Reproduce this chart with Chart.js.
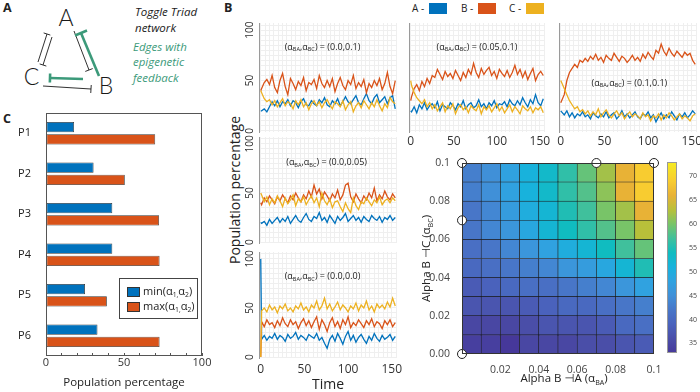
<!DOCTYPE html>
<html>
<head>
<meta charset="utf-8">
<title>Toggle triad</title>
<script src="https://cdn.jsdelivr.net/npm/chart.js@4.4.1/dist/chart.umd.min.js"></script>
<style>
  html, body { margin: 0; padding: 0; }
  body { width: 700px; height: 392px; overflow: hidden; position: relative; background: #fff; font-family: "Open Sans", sans-serif; color: #222; }
  canvas { position: absolute; }
  .tag { position: absolute; font-weight: bold; font-size: 12.5px; line-height: 1; }
  .key { position: absolute; top: 3px; font-size: 10px; line-height: 11px; white-space: nowrap; }
  .key span { display: inline-block; width: 18px; height: 11px; vertical-align: top; margin-left: 5px; }
  .ytitle { position: absolute; left: 235px; top: 190px; font-size: 14px; line-height: 16px; white-space: nowrap;
    transform: translate(-50%, -50%) rotate(-90deg); }
  #net { position: absolute; left: 0; top: 0; }
</style>
</head>
<body>
<div class="tag" style="left:3px;top:2px">A</div>
<div class="tag" style="left:224px;top:2px">B</div>
<div class="tag" style="left:3px;top:113px">C</div>
<svg id="net" width="225" height="100"></svg>
<div class="key" style="left:412px">A -<span style="background:#0072BD"></span></div>
<div class="key" style="left:461px">B -<span style="background:#D95319"></span></div>
<div class="key" style="left:509px">C -<span style="background:#EDB120"></span></div>
<div class="ytitle">Population percentage</div>

<script>
// ---------- data ----------
var times = [0, 1, 4, 7, 10, 13, 16, 19, 22, 25, 28, 31, 34, 37, 40, 43, 46, 49, 52, 55, 58, 61, 64, 67, 70, 73, 76,
  79, 82, 85, 88, 91, 94, 97, 100, 103, 106, 109, 112, 115, 118, 121, 124, 127, 130, 133, 136, 139, 142, 145, 148, 151, 154];
var timeTicks = [0, 50, 100, 150];
var popTicks = [0, 50, 100];

// (alpha_BA, alpha_BC) of each time panel
var panelBA = ['0.0', '0.05', '0.1', '0.0', '0.0'];
var panelBC = ['0.1', '0.1', '0.1', '0.05', '0.0'];

// panel (0.0, 0.1)
var popA1 = [20, 20, 22, 19, 24, 29, 25, 30, 24, 29, 27, 31, 25, 30, 28, 23, 29, 32, 26, 25, 30, 27, 25, 31, 28, 33,
  26, 24, 30, 27, 32, 25, 29, 34, 29, 27, 31, 35, 28, 26, 32, 37, 30, 27, 33, 36, 28, 31, 34, 27, 33, 35, 22];
var popB1 = [40, 42, 48, 51, 46, 55, 43, 38, 50, 57, 44, 36, 52, 47, 41, 49, 45, 53, 40, 48, 46, 51, 42, 55, 47, 43,
  50, 44, 52, 39, 47, 53, 45, 41, 50, 46, 55, 42, 48, 44, 51, 38, 47, 43, 50, 45, 52, 41, 47, 58, 44, 37, 50];
var popC1 = [40, 38, 32, 29, 31, 26, 30, 24, 28, 32, 25, 29, 27, 22, 30, 26, 31, 24, 28, 21, 27, 30, 25, 29, 23, 28,
  31, 26, 22, 29, 27, 24, 30, 21, 26, 29, 19, 25, 28, 23, 30, 26, 22, 28, 24, 31, 25, 20, 27, 23, 33, 29, 27];
// panel (0.05, 0.1)
var popA2 = [20, 19, 24, 18, 26, 22, 28, 21, 25, 27, 23, 29, 20, 26, 24, 22, 28, 25, 21, 27, 24, 30, 22, 26, 28, 23,
  25, 31, 24, 27, 22, 28, 25, 30, 23, 27, 26, 29, 24, 31, 27, 25, 30, 26, 33, 28, 24, 31, 27, 36, 28, 25, 32];
var popB2 = [30, 34, 42, 46, 40, 49, 44, 52, 47, 55, 53, 61, 56, 51, 59, 54, 57, 52, 60, 55, 50, 58, 53, 61, 56, 67,
  58, 53, 62, 56, 60, 63, 55, 59, 52, 61, 57, 54, 60, 53, 58, 65, 56, 61, 53, 59, 51, 57, 62, 50, 56, 59, 55];
var popC2 = [50, 45, 38, 33, 30, 27, 31, 24, 28, 22, 26, 20, 24, 28, 19, 25, 22, 27, 17, 23, 26, 21, 24, 18, 25, 22,
  20, 26, 17, 24, 21, 25, 19, 23, 27, 20, 24, 18, 22, 26, 19, 24, 21, 17, 25, 22, 20, 24, 18, 23, 21, 24, 18];
// panel (0.1, 0.1)
var popA3 = [20, 19, 16, 20, 14, 18, 13, 17, 15, 19, 14, 16, 12, 18, 15, 13, 17, 14, 19, 13, 16, 18, 12, 15, 20, 14,
  17, 13, 16, 19, 14, 12, 17, 15, 19, 13, 16, 9, 14, 18, 12, 16, 13, 19, 15, 11, 17, 14, 18, 13, 16, 20, 17];
var popB3 = [28, 30, 36, 50, 58, 62, 66, 63, 70, 68, 72, 69, 74, 71, 76, 70, 73, 68, 75, 72, 70, 77, 73, 69, 74, 72,
  68, 71, 75, 70, 73, 69, 76, 72, 78, 74, 71, 80, 77, 86, 79, 75, 82, 77, 74, 79, 76, 73, 78, 75, 77, 70, 66];
var popC3 = [50, 48, 42, 36, 30, 26, 22, 24, 19, 21, 17, 20, 15, 19, 16, 22, 14, 18, 21, 16, 13, 17, 20, 15, 18, 12,
  16, 19, 14, 17, 15, 12, 18, 14, 16, 10, 15, 13, 17, 11, 16, 13, 18, 15, 11, 14, 17, 12, 15, 13, 10, 15, 17];
// panel (0.0, 0.05)
var popA4 = [20, 19, 21, 17, 23, 19, 22, 25, 20, 24, 21, 26, 19, 23, 27, 22, 20, 25, 29, 23, 21, 26, 24, 30, 22, 25,
  20, 27, 23, 19, 26, 22, 25, 29, 21, 24, 27, 22, 25, 20, 26, 23, 21, 27, 24, 22, 26, 20, 25, 23, 27, 22, 25];
var popB4 = [40, 38, 45, 41, 47, 43, 39, 46, 42, 48, 44, 40, 47, 43, 50, 45, 41, 48, 44, 52, 46, 58, 49, 54, 44, 51,
  47, 42, 49, 45, 53, 43, 48, 58, 60, 46, 41, 49, 44, 40, 47, 43, 50, 45, 55, 42, 48, 44, 52, 46, 43, 49, 45];
var popC4 = [50, 48, 41, 46, 38, 44, 40, 47, 42, 36, 45, 39, 43, 48, 37, 44, 41, 46, 38, 43, 47, 40, 45, 36, 50, 42,
  38, 44, 35, 41, 42, 36, 31, 40, 34, 30, 45, 37, 33, 41, 39, 45, 41, 37, 43, 40, 46, 38, 42, 44, 40, 45, 42];
// panel (0.0, 0.0)
var popA5 = [100, 18, 22, 17, 21, 19, 24, 18, 22, 20, 16, 23, 19, 21, 25, 18, 22, 20, 17, 23, 21, 19, 24, 17, 20, 14,
  9, 18, 22, 16, 24, 19, 13, 21, 26, 17, 22, 15, 20, 23, 18, 14, 21, 17, 24, 19, 16, 22, 18, 20, 23, 17, 21];
var popB5 = [0, 36, 31, 38, 33, 35, 30, 37, 32, 40, 34, 31, 38, 33, 36, 29, 35, 39, 32, 37, 30, 36, 41, 28, 38, 33,
  26, 35, 40, 31, 36, 29, 38, 33, 41, 30, 35, 32, 38, 34, 30, 37, 33, 39, 31, 36, 34, 29, 37, 33, 38, 31, 35];
var popC5 = [0, 47, 50, 46, 53, 48, 51, 45, 52, 49, 54, 47, 50, 46, 52, 49, 55, 48, 51, 46, 53, 50, 57, 48, 52, 60,
  49, 54, 47, 51, 56, 48, 53, 50, 46, 52, 49, 55, 47, 53, 50, 57, 48, 52, 46, 54, 50, 53, 49, 56, 51, 60, 52];

// panel C
var promoters = ['P1', 'P2', 'P3', 'P4', 'P5', 'P6'];
var minAlpha = [18, 30.5, 42.5, 42.5, 25, 33];
var maxAlpha = [70, 50.5, 72.5, 72.8, 39, 72.8];
var pctTicks = [0, 50, 100];

// heat map: rows from alpha_BC 0.09-0.1 (top) down to 0-0.01, columns alpha_BA 0 -> 0.1
var alphaEdges = [0, 0.01, 0.02, 0.03, 0.04, 0.05, 0.06, 0.07, 0.08, 0.09, 0.1];
var heatRows = [
  [43, 45, 48, 51, 53, 56, 59, 62, 66, 69],
  [43, 45, 48, 51, 53, 56, 58, 61, 66, 69],
  [42, 44, 47, 50, 52, 55, 57, 60, 62, 66],
  [42, 44, 46, 49, 52, 54, 56, 58, 60, 63],
  [41, 42, 44, 46, 48, 50, 52, 54, 57, 59],
  [40, 41, 42, 43, 44, 46, 47, 49, 52, 55],
  [38, 39, 40, 41, 41, 42, 43, 44, 46, 48],
  [37, 37, 37, 38, 39, 40, 40, 41, 42, 43],
  [35, 35, 35, 36, 37, 37, 37, 38, 40, 41],
  [34, 34, 33, 35, 35, 35, 36, 36, 37, 38]
];
var markedBA = [0, 0.07, 0.1, 0, 0];
var markedBC = [0.1, 0.1, 0.1, 0.07, 0];
var heatTicks = [0, 0.02, 0.04, 0.06, 0.08, 0.1];
var cbarTicks = [35, 40, 45, 50, 55, 60, 65, 70];
var cbarRange = [33, 73];

// colour map, roughly the washed parula of the figure
var cmapStops = [[33, '#46389a'], [36, '#4a4ea8'], [39, '#4a62bc'], [42, '#4876c8'], [45, '#4090d8'], [48, '#30a2e0'],
  [51, '#18b2dc'], [54, '#10bcc0'], [57, '#40c09c'], [60, '#78c468'], [63, '#b8c03a'], [66, '#e8b236'],
  [69, '#f8cc30'], [73, '#f5ec22']];

// ---------- helpers ----------
Chart.defaults.font.family = '"Open Sans", sans-serif';
Chart.defaults.color = '#333';

function hexRgb(h) {
  return [parseInt(h.substr(1, 2), 16), parseInt(h.substr(3, 2), 16), parseInt(h.substr(5, 2), 16)];
}
function cmap(v) {
  for (var i = 1; i < cmapStops.length; i++) {
    if (v <= cmapStops[i][0] || i == cmapStops.length - 1) {
      var a = cmapStops[i - 1], b = cmapStops[i];
      var f = Math.max(0, Math.min(1, (v - a[0]) / (b[0] - a[0])));
      var ca = hexRgb(a[1]), cb = hexRgb(b[1]);
      return 'rgb(' + ca.map(function (x, k) { return Math.round(x + (cb[k] - x) * f); }).join(',') + ')';
    }
  }
}

function place(area, yw, xh, pad) {
  var cv = document.createElement('canvas');
  var w = area.w + yw + pad.l + pad.r, h = area.h + xh + pad.t + pad.b;
  cv.width = w; cv.height = h;
  cv.style.left = (area.x - yw - pad.l) + 'px';
  cv.style.top = (area.y - pad.t) + 'px';
  cv.style.width = w + 'px'; cv.style.height = h + 'px';
  document.body.appendChild(cv);
  return cv;
}
function padOf(p) { return {left: p.l, top: p.t, right: p.r, bottom: p.b}; }

// fixes the size of an axis box, and drops label overhang padding
function fitTo(n) {
  return function (s) {
    if (s.isHorizontal()) s.height = n; else s.width = n;
    s.paddingLeft = s.paddingRight = s.paddingTop = s.paddingBottom = 0;
  };
}
function tickList(vals) {
  return function (s) { s.ticks = vals.map(function (v) { return {value: v}; }); };
}
function steps(from, to, by) {
  var out = [];
  for (var v = from; v <= to + 1e-9; v += by) out.push(Math.round(v * 1000) / 1000);
  return out;
}

// text with small subscripts: parts = [[text, isSub], ...]
function drawParts(c, parts, x, y, size, rot, align) {
  var sub = size * 0.62;
  function font(p) { return (p[1] ? sub : size) + 'px "Open Sans", "DejaVu Sans", sans-serif'; }
  c.save();
  c.translate(x, y);
  if (rot) c.rotate(rot);
  c.textBaseline = 'middle'; c.textAlign = 'left'; c.fillStyle = '#222';
  var w = 0;
  parts.forEach(function (p) { c.font = font(p); w += c.measureText(p[0]).width; });
  var cx = align == 'left' ? 0 : -w / 2;
  parts.forEach(function (p) {
    c.font = font(p);
    c.fillText(p[0], cx, p[1] ? size * 0.32 : 0);
    cx += c.measureText(p[0]).width;
  });
  c.restore();
}

var notePlugin = {
  id: 'panelNote',
  afterDatasetsDraw: function (chart, args, o) {
    if (!o.parts) return;
    var a = chart.chartArea;
    drawParts(chart.ctx, o.parts, a.left + a.width * o.fx, a.top + a.height * o.fy, 9, 0);
  }
};
var framePlugin = {
  id: 'frame',
  afterDraw: function (chart, args, o) {
    if (!o.color) return;
    var a = chart.chartArea, c = chart.ctx;
    c.save();
    c.strokeStyle = o.color; c.lineWidth = 1;
    c.strokeRect(a.left + 0.5, a.top + 0.5, a.width - 1, a.height - 1);
    c.restore();
  }
};
var keyPlugin = {
  id: 'key',
  afterDraw: function (chart, args, o) {
    var a = chart.chartArea, c = chart.ctx, x = a.left + o.x, y = a.top + o.y;
    c.save();
    c.fillStyle = '#fff'; c.fillRect(x, y, o.w, o.h);
    c.strokeStyle = '#444'; c.lineWidth = 1; c.strokeRect(x + 0.5, y + 0.5, o.w, o.h);
    chart.data.datasets.forEach(function (d, i) {
      var yy = y + 9 + i * 15;
      c.fillStyle = d.backgroundColor; c.fillRect(x + 8, yy, 13, 10);
      c.strokeStyle = '#333'; c.strokeRect(x + 8.5, yy + 0.5, 12, 9);
      drawParts(c, o.labels[i], x + 24, yy + 5, 11, 0, 'left');
    });
    c.restore();
  }
};

// ---------- panel A: network sketch ----------
(function () {
  var ink = '#1a1a1a', teal = '#3c9a7a';
  function blunt(x1, y1, x2, y2, col, w, bar) {
    var dx = x2 - x1, dy = y2 - y1, L = Math.sqrt(dx * dx + dy * dy);
    var nx = -dy / L * bar / 2, ny = dx / L * bar / 2;
    var st = ' stroke="' + col + '" stroke-width="' + w + '" stroke-linecap="butt"/>';
    return '<line x1="' + x1 + '" y1="' + y1 + '" x2="' + x2 + '" y2="' + y2 + '"' + st +
      '<line x1="' + (x2 + nx) + '" y1="' + (y2 + ny) + '" x2="' + (x2 - nx) + '" y2="' + (y2 - ny) + '"' + st;
  }
  function txt(s, x, y, size, col, extra) {
    return '<text x="' + x + '" y="' + y + '" font-size="' + size + '" fill="' + col + '" ' + extra + '>' + s + '</text>';
  }
  var node = 'text-anchor="middle" font-family="Lato, sans-serif" font-weight="300"';
  var it = 'font-family="Open Sans, sans-serif" font-style="italic"';
  document.getElementById('net').innerHTML =
    blunt(38, 62, 47, 34, ink, 0.9, 7) +
    blunt(52, 37, 43, 65, ink, 0.9, 7) +
    blunt(74, 31, 89, 70, ink, 0.9, 8) +
    blunt(99, 76, 81, 33, teal, 2.6, 13) +
    blunt(83, 79, 50, 78, teal, 2.6, 9) +
    blunt(43, 86, 91, 89, ink, 0.9, 8) +
    txt('A', 66, 26, 23, ink, node) +
    txt('C', 31.5, 85, 23, ink, node) +
    txt('B', 106, 94, 23, ink, node) +
    txt('Toggle Triad', 135, 15.5, 11.5, ink, it) +
    txt('network', 135, 31.5, 11.5, ink, it) +
    txt('Edges with', 133, 50.5, 11.5, teal, it) +
    txt('epigenetic', 133, 66, 11.5, teal, it) +
    txt('feedback', 133, 82, 11.5, teal, it);
})();

// ---------- panel B: time courses ----------
var timeGrid = steps(0, 155, 5);
var popGrid = steps(0, 105, 5);

function noteParts(ba, bc) {
  return [['(α', 0], ['BA', 1], [',α', 0], ['BC', 1], [') = (' + ba + ',' + bc + ')', 0]];
}

function timePanel(k, A, B, C, o) {
  var cv = place(o.area, o.yw, o.xh, o.pad);
  var sets = [[C, '#EDB120'], [B, '#D95319'], [A, '#0072BD']].map(function (s) {
    return {
      data: s[0].map(function (v, i) { return {x: times[i], y: v}; }),
      borderColor: s[1], borderWidth: 1.3, pointRadius: 0, tension: 0, fill: false
    };
  });
  return new Chart(cv, {
    type: 'line',
    data: {datasets: sets},
    plugins: [notePlugin],
    options: {
      responsive: false, animation: false, events: [],
      layout: {padding: padOf(o.pad)},
      plugins: {
        legend: {display: false}, tooltip: {enabled: false},
        panelNote: {parts: noteParts(panelBA[k], panelBC[k]), fx: o.fx, fy: o.fy}
      },
      scales: {
        x: {
          type: 'linear', min: -2, max: 156,
          afterBuildTicks: tickList(timeGrid),
          afterFit: fitTo(o.xh),
          grid: {color: '#efefef', drawTicks: false},
          border: {display: false},
          ticks: {
            display: !!o.showX, autoSkip: false, maxRotation: 0, padding: o.xPad || 2, font: {size: 12},
            callback: function (v) { return timeTicks.indexOf(v) >= 0 ? String(v) : ''; }
          },
          title: {display: !!o.xTitle, text: o.xTitle || '', padding: {top: 0, bottom: 1}, font: {size: 14}, color: '#222'}
        },
        y: {
          type: 'linear', min: -1, max: 107,
          afterBuildTicks: tickList(popGrid),
          afterFit: fitTo(o.yw),
          grid: {color: '#efefef', drawTicks: false},
          border: {display: true, color: '#9a9a9a'},
          ticks: {
            display: !!o.showY, autoSkip: false, minRotation: 90, maxRotation: 90, crossAlign: 'center',
            padding: 0, font: {size: 10},
            callback: function (v) { return popTicks.indexOf(v) >= 0 ? String(v) : ''; }
          }
        }
      }
    }
  });
}

timePanel(0, popA1, popB1, popC1, {area: {x: 259, y: 23, w: 138, h: 109}, yw: 20, xh: 0,
  pad: {l: 0, t: 4, r: 3, b: 5}, showY: true, fx: 0.46, fy: 0.22});
timePanel(1, popA2, popB2, popC2, {area: {x: 409, y: 23, w: 136, h: 109}, yw: 2, xh: 20,
  pad: {l: 6, t: 4, r: 12, b: 0}, showX: true, xPad: 2, fx: 0.5, fy: 0.22});
timePanel(2, popA3, popB3, popC3, {area: {x: 559, y: 23, w: 138, h: 109}, yw: 2, xh: 20,
  pad: {l: 6, t: 4, r: 12, b: 0}, showX: true, xPad: 2, fx: 0.51, fy: 0.55});
timePanel(3, popA4, popB4, popC4, {area: {x: 259, y: 137, w: 138, h: 106}, yw: 20, xh: 0,
  pad: {l: 0, t: 4, r: 3, b: 5}, showY: true, fx: 0.49, fy: 0.24});
timePanel(4, popA5, popB5, popC5, {area: {x: 259, y: 252, w: 138, h: 106}, yw: 20, xh: 36,
  pad: {l: 0, t: 4, r: 12, b: 0}, showY: true, showX: true, xPad: 4, xTitle: 'Time', fx: 0.46, fy: 0.23});

// ---------- panel B: heat map ----------
(function () {
  var cells = [];
  var n = alphaEdges.length;
  heatRows.forEach(function (row, r) {
    var lo = alphaEdges[n - 2 - r], hi = alphaEdges[n - 1 - r];
    row.forEach(function (v, c) {
      cells.push({x: (alphaEdges[c] + alphaEdges[c + 1]) / 2, y: [lo, hi], v: v});
    });
  });
  var fmt = function (v) { return v == 0.1 ? '0.1' : Number(v).toFixed(2); };
  var titles = {
    id: 'heatTitles',
    afterDraw: function (chart) {
      var a = chart.chartArea, c = chart.ctx;
      drawParts(c, [['Alpha B ⊣A (α', 0], ['BA', 1], [')', 0]], a.left + a.width / 2 + 6, a.bottom + 25, 11.5, 0);
      drawParts(c, [['Alpha B ⊣C (α', 0], ['BC', 1], [')', 0]], a.left - 35, a.top + a.height / 2, 11.5, -Math.PI / 2);
    }
  };
  var pad = {l: 0, t: 6, r: 8, b: 0};
  var cv = place({x: 462, y: 163, w: 192, h: 191}, 46, 38, pad);
  new Chart(cv, {
    type: 'bar',
    data: {
      datasets: [{
        type: 'scatter', order: 0, clip: false,
        data: markedBA.map(function (x, i) { return {x: x, y: markedBC[i]}; }),
        pointRadius: 4.5, pointBackgroundColor: '#fff', pointBorderColor: '#222', pointBorderWidth: 1
      }, {
        order: 1, data: cells,
        backgroundColor: function (ctx) { return ctx.raw ? cmap(ctx.raw.v) : '#000'; },
        borderColor: '#1a1a1a', borderWidth: 0.6, borderSkipped: false,
        barPercentage: 1, categoryPercentage: 1
      }]
    },
    plugins: [framePlugin, titles],
    options: {
      responsive: false, animation: false, events: [],
      layout: {padding: padOf(pad)},
      plugins: {legend: {display: false}, tooltip: {enabled: false}, frame: {color: '#333'}},
      scales: {
        x: {
          type: 'linear', min: 0, max: 0.1, offset: false,
          afterBuildTicks: tickList(heatTicks.slice(1)), afterFit: fitTo(38),
          grid: {display: false, offset: false}, border: {display: false},
          ticks: {padding: 2, font: {size: 10.5}, color: '#444', maxRotation: 0, autoSkip: false, callback: fmt}
        },
        y: {
          type: 'linear', min: 0, max: 0.1,
          afterBuildTicks: tickList(heatTicks), afterFit: fitTo(46),
          grid: {display: false}, border: {display: false},
          ticks: {padding: 4, font: {size: 10.5}, color: '#444', autoSkip: false, callback: fmt}
        }
      }
    }
  });

  // colour bar
  var cb = place({x: 667, y: 162, w: 10, h: 191}, 0, 0, {l: 2, t: 5, r: 24, b: 5});
  new Chart(cb, {
    type: 'bar',
    data: {
      labels: [''],
      datasets: [{
        data: [cbarRange], borderWidth: 0, barPercentage: 1, categoryPercentage: 1,
        backgroundColor: function (ctx) {
          var ch = ctx.chart;
          if (!ch.chartArea) return '#888';
          var y = ch.scales.y;
          var g = ch.ctx.createLinearGradient(0, y.getPixelForValue(cbarRange[0]), 0, y.getPixelForValue(cbarRange[1]));
          cmapStops.forEach(function (s) {
            g.addColorStop((s[0] - cbarRange[0]) / (cbarRange[1] - cbarRange[0]), s[1]);
          });
          return g;
        }
      }]
    },
    plugins: [framePlugin],
    options: {
      responsive: false, animation: false, events: [],
      layout: {padding: {left: 2, top: 5, right: 2, bottom: 5}},
      plugins: {legend: {display: false}, tooltip: {enabled: false}, frame: {color: '#999'}},
      scales: {
        x: {display: false},
        y: {
          position: 'right', min: cbarRange[0], max: cbarRange[1],
          afterBuildTicks: tickList(cbarTicks), afterFit: fitTo(22),
          grid: {display: false}, border: {display: false},
          ticks: {padding: 4, font: {size: 7}, color: '#444', autoSkip: false}
        }
      }
    }
  });
})();

// ---------- panel C: bars ----------
(function () {
  var pad = {l: 0, t: 5, r: 14, b: 0};
  var cv = place({x: 46, y: 113, w: 156, h: 243}, 46, 36, pad);
  new Chart(cv, {
    type: 'bar',
    data: {
      labels: promoters,
      datasets: [
        {data: minAlpha, backgroundColor: '#0072BD', borderColor: '#333', borderWidth: 0.8, borderSkipped: false},
        {data: maxAlpha, backgroundColor: '#D95319', borderColor: '#333', borderWidth: 0.8, borderSkipped: false}
      ]
    },
    plugins: [framePlugin, keyPlugin],
    options: {
      indexAxis: 'y', responsive: false, animation: false, events: [],
      layout: {padding: padOf(pad)},
      datasets: {bar: {categoryPercentage: 0.6, barPercentage: 0.85}},
      plugins: {
        legend: {display: false}, tooltip: {enabled: false}, frame: {color: '#555'},
        key: {x: 73, y: 165, w: 78, h: 40, labels: [
          [['min(α', 0], ['1,', 1], ['α', 0], ['2', 1], [')', 0]],
          [['max(α', 0], ['1,', 1], ['α', 0], ['2', 1], [')', 0]]
        ]}
      },
      scales: {
        x: {
          type: 'linear', min: 0, max: 100,
          afterBuildTicks: tickList(steps(0, 100, 10)), afterFit: fitTo(36),
          grid: {drawOnChartArea: false, drawTicks: true, tickLength: -3, color: '#555'},
          border: {display: false},
          ticks: {padding: 3, font: {size: 11}, color: '#333', autoSkip: false, maxRotation: 0,
            callback: function (v) { return pctTicks.indexOf(v) >= 0 ? String(v) : ''; }},
          title: {display: true, text: 'Population percentage', font: {size: 11.5}, color: '#222', padding: {top: 0, bottom: 2}}
        },
        y: {
          afterFit: fitTo(46),
          grid: {display: false}, border: {display: false},
          ticks: {padding: 7, font: {size: 11}, color: '#222'}
        }
      }
    }
  });
})();
</script>
</body>
</html>
